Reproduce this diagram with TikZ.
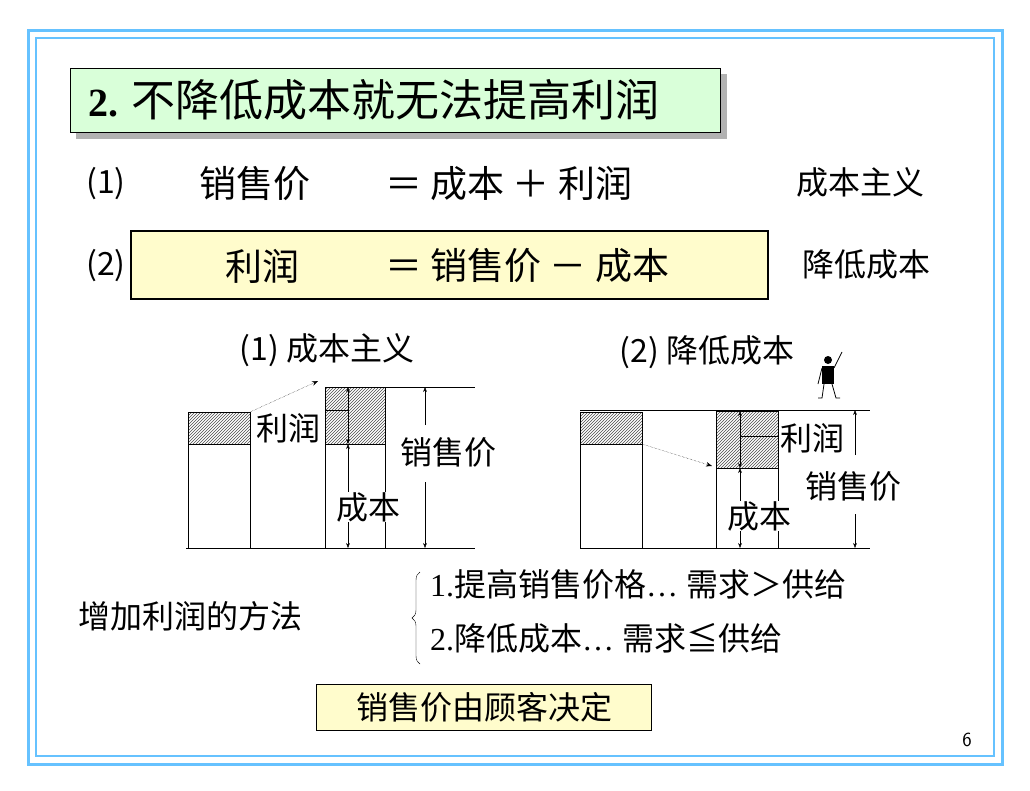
\documentclass[tikz,border=0pt]{standalone}
\usepackage{fontspec}
\setmainfont{Liberation Serif}
\newfontfamily\cjk{Noto Sans CJK SC}
\usetikzlibrary{patterns,arrows.meta,decorations.pathreplacing}
\begin{document}
\begin{tikzpicture}[x=1pt,y=-1pt,
 txt/.style={font=\cjk\fontsize{37}{40}\selectfont,inner sep=0},
 lbl/.style={font=\cjk\fontsize{32}{36}\selectfont,inner sep=0},
 hatch/.style={draw,pattern=north east lines,pattern color=black!70},
 bar/.style={draw,fill=white},
 dim/.style={{Stealth[length=5pt]}-{Stealth[length=5pt]},thin},
 dimu/.style={-{Stealth[length=5pt]},thin}]
\useasboundingbox (0,0) rectangle (1030,790);
\fill[white] (0,0) rectangle (1030,790);
\draw[color=blue!40!cyan!60,line width=3pt] (28,30) rectangle (1002,764);
\draw[color=blue!40!cyan!60,line width=2pt] (36,38) rectangle (994,756);
% title
\fill[gray!60] (76,74) rectangle (727,139);
\node[draw,fill=green!15,minimum width=650,minimum height=64,anchor=north west,inner sep=0] (title) at (70,68) {};
\node[anchor=west,inner sep=0] (tt) at (88,100) {\fontsize{40}{44}\selectfont\bfseries 2. \cjk\mdseries\fontsize{44}{48}\selectfont 不降低成本就无法提高利润};
% line 1
\node[lbl] (n1) at (106,184) {(1)};
\node[txt] (e1) at (255,184) {销售价};
\node[txt,anchor=west] (e1b) at (385,184) {＝ 成本 ＋ 利润};
\node[lbl] (r1) at (860,182) {成本主义};
% line 2
\node[lbl] (n2) at (106,266) {(2)};
\node[draw,line width=1.5pt,fill=yellow!20,minimum width=637,minimum height=68,anchor=north west,inner sep=0] (yb) at (130,230) {};
\node[txt] (e2) at (262,266) {利润};
\node[txt,anchor=west] (e2b) at (385,266) {＝ 销售价 － 成本};
\node[lbl] (r2) at (866,264) {降低成本};
% chart titles
\node[lbl] (c1) at (327,350) {(1) 成本主义};
\node[lbl] (c2) at (707,352) {(2) 降低成本};
% left chart
\node[bar,minimum width=62,minimum height=136,anchor=north west,inner sep=0] (lb1) at (188,412) {};
\draw[hatch] (188,412) rectangle (250,444);
\node[bar,minimum width=60,minimum height=161,anchor=north west,inner sep=0] (lb2) at (325,387) {};
\draw[hatch] (325,387) rectangle (385,444);
\draw (325,387) -- (475,387);
\draw[line width=1pt] (186,548) -- (475,548);
\coordinate (la1) at (250,412); \coordinate (la2) at (318,381);
\draw[-{Stealth[length=6pt]},densely dotted] (la1) -- (la2);
\draw (325,410) -- (348,410);
\draw[dim] (348,387) -- (348,444);
\draw[dim] (348,444) -- (348,548);
\node[lbl] (lr) at (288,428) {利润};
\node[lbl,fill=white] (lc) at (368,507) {成本};
\node[lbl] (ls) at (448,452) {销售价};
\draw[dimu] (425,425) -- (425,387);
\draw[dimu] (425,482) -- (425,548);
% right chart
\node[bar,minimum width=62,minimum height=136,anchor=north west,inner sep=0] (rb1) at (580,412) {};
\draw[hatch] (580,412) rectangle (642,444);
\node[bar,minimum width=62,minimum height=137,anchor=north west,inner sep=0] (rb2) at (716,411) {};
\draw[hatch] (716,411) rectangle (778,468);
\draw (580,410) -- (870,410);
\draw[line width=1pt] (580,548) -- (870,548);
\coordinate (ra1) at (642,444); \coordinate (ra2) at (712,466);
\draw[-{Stealth[length=6pt]},densely dotted] (ra1) -- (ra2);
\draw (740,436) -- (778,436);
\draw[dim] (740,411) -- (740,468);
\draw[dim] (740,468) -- (740,548);
\node[lbl,fill=white] (rr) at (812,438) {利润};
\node[lbl,fill=white] (rc) at (759,516) {成本};
\node[lbl] (rs) at (853,486) {销售价};
\draw[dimu] (855,455) -- (855,410);
\draw[dimu] (855,514) -- (855,548);
% stick figure
\fill (828,360) circle (4);
\fill (822,366) -- (834,366) -- (834,384) -- (822,384) -- cycle;
\draw[thick] (834,368) -- (842,352);
\draw[thick] (822,368) -- (818,384);
\draw[thick] (824,384) -- (822,398) -- (818,398);
\draw[thick] (832,384) -- (836,398) -- (840,398);
% methods
\node[lbl,anchor=west] (m) at (78,616) {增加利润的方法};
\draw[decorate,decoration={brace,amplitude=8pt,mirror}] (420,572) -- (420,664);
\node[lbl,anchor=west] (m1) at (430,584) {\fontspec{Liberation Serif}1.\cjk 提高销售价格\fontspec{Liberation Serif}… \cjk 需求＞供给};
\node[lbl,anchor=west] (m2) at (430,638) {\fontspec{Liberation Serif}2.\cjk 降低成本\fontspec{Liberation Serif}… \cjk 需求≦供给};
\node[draw,fill=yellow!20,minimum width=335,minimum height=46,anchor=north west,inner sep=0] (bb) at (316,684) {};
\node[lbl] (bt) at (484,707) {销售价由顾客决定};
\node[font=\sffamily\fontsize{20}{22}\selectfont] (pg) at (967,740) {6};
\end{tikzpicture}
\end{document}
